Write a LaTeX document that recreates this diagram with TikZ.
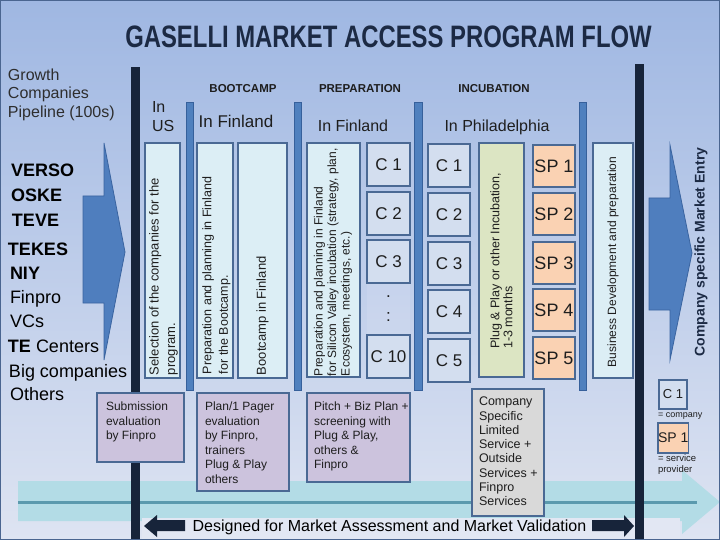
\documentclass[tikz,border=0pt]{standalone}
\usepackage{fontspec}
\setmainfont{Liberation Sans}
\usepackage{graphicx}
\definecolor{bgtop}{HTML}{9FB7E2}
\definecolor{bgbot}{HTML}{DEE4F2}
\definecolor{navy}{HTML}{17243A}
\definecolor{titlecol}{HTML}{1C2A44}
\definecolor{barblue}{HTML}{4F80BE}
\definecolor{bardark}{HTML}{36609B}
\definecolor{boxline}{HTML}{4A6994}
\definecolor{cyanfill}{HTML}{DCEEF5}
\definecolor{cfill}{HTML}{D3DEEF}
\definecolor{greenfill}{HTML}{DCE5C3}
\definecolor{peach}{HTML}{FAD2B3}
\definecolor{lav}{HTML}{CCC3DD}
\definecolor{greyfill}{HTML}{D9D9D9}
\definecolor{tealband}{HTML}{B3DCE6}
\definecolor{tealline}{HTML}{5B9AAE}
\definecolor{textbg}{HTML}{E2E7F3}
\definecolor{frame}{HTML}{4A6590}
\definecolor{arrowblue}{HTML}{4F7EBE}
\definecolor{arrowdark}{HTML}{3A64A0}
\definecolor{txt}{HTML}{1E1E1E}
\definecolor{growthcol}{HTML}{2E2E2E}
\begin{document}
\begin{tikzpicture}[x=1pt,y=-1pt,
  every node/.style={inner sep=0pt, outer sep=0pt, text=txt},
  box/.style={draw=boxline, line width=1.4pt, anchor=north west, inner sep=0pt},
  cyanbox/.style={box, fill=cyanfill},
  cbox/.style={box, fill=cfill, font=\fontsize{17}{17}\selectfont},
  spbox/.style={box, fill=peach, font=\fontsize{18}{18}\selectfont},
  lavbox/.style={box, fill=lav},
  rottext/.style={rotate=90, align=left, font=\fontsize{12.5}{16.5}\selectfont},
  btext/.style={anchor=north west, align=left, font=\fontsize{12}{14.5}\selectfont},
  hdr/.style={font=\bfseries\fontsize{11.5}{11.5}\selectfont, anchor=base},
  loc/.style={font=\fontsize{16}{16}\selectfont, anchor=base},
  listitem/.style={font=\fontsize{18}{18}\selectfont, anchor=base west, text=black},
  vbar/.style={draw=bardark, fill=barblue, line width=0.8pt},
  blockarrow/.style={draw=arrowdark, fill=arrowblue, line width=0.8pt},
]
\useasboundingbox (0,0) rectangle (720,540);
\shade[top color=bgtop, bottom color=bgbot] (0,0) rectangle (720,540);

% bottom band
\fill[tealband] (18,481) -- (682,481) -- (682,470) -- (720,502) -- (682,534) -- (682,521) -- (18,521) -- cycle;
\draw[tealline, line width=3pt] (18,502) -- (697,502);
\fill[textbg] (142,518) rectangle (680,540);

% thick bars
\fill[navy] (131,67) rectangle (140,540);
\fill[navy] (635,64) rectangle (644,540);

% thin blue separators
\draw[vbar] (186,102) rectangle (193,390);
\draw[vbar] (294,102) rectangle (301,390);
\draw[vbar] (414,102) rectangle (422,390);
\draw[vbar] (579,102) rectangle (586,390);

% block arrows
\draw[blockarrow] (83,196) -- (104,196) -- (104,143) -- (125,252) -- (104,360) -- (104,303) -- (83,303) -- cycle;
\draw[blockarrow] (649,198) -- (670,198) -- (670,145) -- (692,253) -- (670,360) -- (670,310) -- (649,310) -- cycle;

% title
\node[font=\bfseries\fontsize{31}{31}\selectfont, text=titlecol, anchor=base] (title) at (388.5,48) {\scalebox{0.77}[1]{GASELLI MARKET ACCESS PROGRAM FLOW}};

% left list
\node[font=\fontsize{16}{18.5}\selectfont, text=growthcol, anchor=north west, align=left] (growth) at (8,68.5) {Growth\\Companies\\Pipeline (100s)};
\node[listitem, font=\bfseries\fontsize{18}{18}\selectfont] (verso) at (11,177) {VERSO};
\node[listitem, font=\bfseries\fontsize{18}{18}\selectfont] (oske) at (11,202) {OSKE};
\node[listitem, font=\bfseries\fontsize{18}{18}\selectfont] (teve) at (12,226) {TEVE};
\node[listitem, font=\bfseries\fontsize{18}{18}\selectfont] (tekes) at (8,255) {TEKES};
\node[listitem, font=\bfseries\fontsize{18}{18}\selectfont] (niy) at (10,279) {NIY};
\node[listitem] (finpro) at (10,303) {Finpro};
\node[listitem] (vcs) at (10,327) {VCs};
\node[listitem] (tec) at (8,352) {\textbf{TE} Centers};
\node[listitem] (big) at (9,377) {Big companies};
\node[listitem] (others) at (10,400) {Others};

% headers
\node[hdr] (hboot) at (243,93) {BOOTCAMP};
\node[hdr] (hprep) at (360,93) {PREPARATION};
\node[hdr] (hinc) at (494,93) {INCUBATION};
\node[font=\fontsize{16}{19}\selectfont, anchor=north west, align=left] (inus) at (152,101.5) {In\\US};
\node[loc, font=\fontsize{17}{17}\selectfont] (finb) at (236,128) {In Finland};
\node[loc] (finp) at (353,132) {In Finland};
\node[loc] (phil) at (497,132) {In Philadelphia};

% tall boxes
\node[cyanbox, minimum width=35, minimum height=235] (selbox) at (145,143) {};
\node[rottext, anchor=west, font=\fontsize{13}{16.5}\selectfont] (seltext) at (163.5,375) {Selection of the companies for the\\program.};
\node[cyanbox, minimum width=36, minimum height=235] (bprep) at (197,143) {};
\node[rottext, anchor=west] (bpreptext) at (216.5,374) {Preparation and planning in Finland\\for the Bootcamp.};
\node[cyanbox, minimum width=49, minimum height=235] (bcamp) at (238,143) {};
\node[rottext, anchor=west, font=\fontsize{13}{16}\selectfont] (bcamptext) at (262.5,375) {Bootcamp in Finland};
\node[cyanbox, minimum width=53, minimum height=234] (pprep) at (307,143) {};
\node[rottext, anchor=west, font=\fontsize{12}{13.5}\selectfont] (ppreptext) at (333,376) {Preparation and planning in Finland\\for Silicon Valley incubation (strategy, plan,\\Ecosystem, meetings, etc.)};

% preparation companies
\fill[white, opacity=0.1] (367,282) rectangle (410,335);
\node[cbox, minimum width=43, minimum height=43] (pc1) at (367,143) {C 1};
\node[cbox, minimum width=43, minimum height=43] (pc2) at (367,192) {C 2};
\node[cbox, minimum width=43, minimum height=43] (pc3) at (367,240) {C 3};
\node[font=\fontsize{17}{17}\selectfont, anchor=base] (dot1) at (388.5,297) {.};
\node[font=\fontsize{17}{17}\selectfont, anchor=base] (dot2) at (388.5,321) {:};
\node[cbox, minimum width=43, minimum height=43] (pc10) at (367,335) {C 10};

% incubation companies
\node[cbox, minimum width=42, minimum height=43] (ic1) at (428,144) {C 1};
\node[cbox, minimum width=42, minimum height=43] (ic2) at (428,193) {C 2};
\node[cbox, minimum width=42, minimum height=43] (ic3) at (428,242) {C 3};
\node[cbox, minimum width=42, minimum height=43] (ic4) at (428,290) {C 4};
\node[cbox, minimum width=42, minimum height=43] (ic5) at (428,339) {C 5};

% plug and play
\node[box, fill=greenfill, minimum width=45, minimum height=234] (pnp) at (479,143) {};
\node[rottext, font=\fontsize{12.5}{13}\selectfont] (pnptext) at (501.5,261) {Plug \& Play or other Incubation,\\1-3 months};

% service providers
\node[spbox, minimum width=42, minimum height=42] (sp1) at (533,145) {SP 1};
\node[spbox, minimum width=42, minimum height=42] (sp2) at (533,193) {SP 2};
\node[spbox, minimum width=42, minimum height=42] (sp3) at (533,242) {SP 3};
\node[spbox, minimum width=42, minimum height=42] (sp4) at (533,289) {SP 4};
\node[spbox, minimum width=42, minimum height=42] (sp5) at (533,337) {SP 5};

% business development
\node[cyanbox, minimum width=40, minimum height=235] (bdev) at (593,143) {};
\node[rottext, font=\fontsize{12}{13}\selectfont] (bdevtext) at (613,262) {Business Development and preparation};

% market entry
\node[rotate=90, font=\bfseries\fontsize{14}{14}\selectfont, text=titlecol] (entry) at (701,252) {Company specific Market Entry};

% bottom boxes
\node[lavbox, minimum width=87, minimum height=69] (subbox) at (97,393) {};
\node[btext] (subtext) at (106,402.2) {Submission\\evaluation\\by Finpro};
\node[lavbox, minimum width=92, minimum height=98] (planbox) at (197,393) {};
\node[btext] (plantext) at (205,402.2) {Plan/1 Pager\\evaluation\\by Finpro,\\trainers\\Plug \& Play\\others};
\node[lavbox, minimum width=103, minimum height=89] (pitchbox) at (307,393) {};
\node[btext] (pitchtext) at (314,402.2) {Pitch + Biz Plan +\\screening with\\Plug \& Play,\\others \&\\Finpro};
\node[box, fill=greyfill, minimum width=72, minimum height=127] (compbox) at (472,389) {};
\node[btext, font=\fontsize{12.5}{14.3}\selectfont] (comptext) at (479,397) {Company\\Specific\\Limited\\Service +\\Outside\\Services +\\Finpro\\Services};

% legend
\node[box, fill=cfill, minimum width=28, minimum height=29, font=\fontsize{13}{13}\selectfont] (legc) at (659,380) {C 1};
\node[font=\fontsize{9}{9}\selectfont, anchor=base west] (legctext) at (658,417) {= company};
\node[box, fill=peach, minimum width=29, minimum height=30, font=\fontsize{14}{14}\selectfont] (legsp) at (658,423) {SP 1};
\node[font=\fontsize{9.5}{10.5}\selectfont, anchor=north west, align=left] (legsptext) at (658,455) {= service\\provider};

% bottom message with arrows
\node[font=\fontsize{16}{16}\selectfont, anchor=base, text=black] (designed) at (389.5,531) {Designed for Market Assessment and Market Validation};
\fill[navy] (185,520) -- (157,520) -- (157,515) -- (144,526) -- (157,537) -- (157,531) -- (185,531) -- cycle;
\fill[navy] (592,520) -- (624,520) -- (624,515) -- (634,526) -- (624,537) -- (624,531) -- (592,531) -- cycle;

% frame
\draw[frame, line width=1.2pt] (0.6,0.6) rectangle (719.4,539.4);
\end{tikzpicture}
\end{document}
